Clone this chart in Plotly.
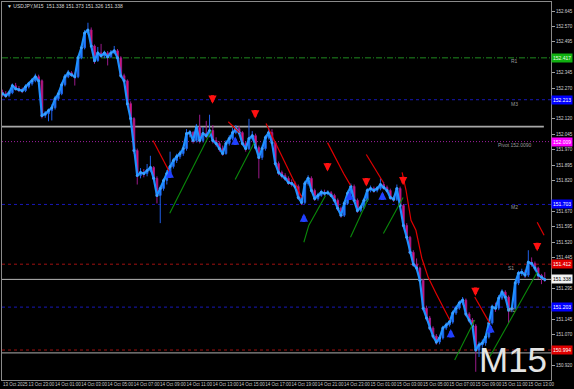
import numpy as np
import pandas as pd
import plotly.graph_objects as go

# ---------------- data ----------------
start_time = "2025-10-13 21:00"
bar_minutes = 15

opens = [
    152.250,152.242,152.233,152.247,152.281,152.267,152.262,152.257,152.276,152.291,
    152.305,152.325,152.305,152.136,152.145,152.160,152.174,152.218,152.242,152.286,
    152.325,152.344,152.335,152.325,152.417,152.466,152.538,152.553,152.475,152.403,
    152.441,152.427,152.441,152.422,152.441,152.451,152.417,152.330,152.305,152.194,
    152.121,151.966,151.844,151.859,151.854,151.868,151.883,151.830,151.747,151.781,
    151.820,151.854,151.888,151.917,151.936,151.951,151.975,152.048,152.053,152.014,
    152.080,152.014,152.048,152.038,152.063,152.014,152.000,151.975,151.951,152.000,
    152.024,152.053,152.072,152.053,152.000,151.975,152.024,152.038,151.980,151.932,
    151.975,152.029,152.053,152.004,151.902,151.859,151.844,151.830,151.810,151.805,
    151.791,151.737,151.713,151.805,151.830,151.771,151.732,151.747,151.762,151.757,
    151.760,151.747,151.723,151.684,151.650,151.708,151.757,151.791,151.723,151.674,
    151.689,151.723,151.771,151.781,151.771,151.781,151.800,151.786,151.771,151.737,
    151.728,151.781,151.698,151.601,151.543,151.470,151.412,151.393,151.334,151.198,
    151.150,151.101,151.062,151.033,151.053,151.101,151.116,151.130,151.174,151.198,
    151.223,151.237,151.169,151.140,151.111,150.994,151.019,151.028,151.058,151.126,
    151.203,151.198,151.247,151.276,151.252,151.189,151.198,151.320,151.368,151.373,
    151.359,151.422,151.415,151.393,151.359,151.338,
]
highs = [
    152.262,152.255,152.258,152.292,152.295,152.280,152.272,152.288,152.300,152.318,
    152.340,152.335,152.312,152.158,152.170,152.190,152.232,152.258,152.298,152.338,
    152.358,152.352,152.345,152.428,152.480,152.552,152.588,152.565,152.482,152.470,
    152.485,152.452,152.450,152.455,152.475,152.460,152.425,152.340,152.312,152.205,
    152.128,151.975,151.880,151.875,151.900,151.940,151.890,151.840,151.795,151.830,
    151.870,151.960,151.930,151.950,151.965,151.990,152.070,152.065,152.060,152.095,
    152.140,152.080,152.110,152.140,152.090,152.030,152.010,151.990,152.015,152.040,
    152.075,152.090,152.085,152.060,152.010,152.120,152.060,152.048,151.990,151.990,
    152.040,152.080,152.070,152.010,151.912,151.868,151.855,151.840,151.825,151.815,
    151.800,151.748,151.818,151.845,151.840,151.780,151.760,151.775,151.775,151.772,
    151.768,151.755,151.732,151.692,151.720,151.770,151.805,151.800,151.732,151.700,
    151.735,151.782,151.795,151.790,151.792,151.830,151.812,151.795,151.780,151.745,
    151.800,151.790,151.705,151.612,151.550,151.480,151.440,151.400,151.340,151.210,
    151.160,151.110,151.072,151.065,151.112,151.128,151.142,151.186,151.210,151.235,
    151.252,151.245,151.178,151.150,151.120,151.035,151.045,151.070,151.140,151.215,
    151.225,151.262,151.290,151.285,151.260,151.210,151.330,151.380,151.390,151.385,
    151.480,151.445,151.425,151.400,151.365,151.373,
]
lows = [
    152.228,152.222,152.225,152.240,152.258,152.250,152.245,152.250,152.268,152.282,
    152.298,152.290,152.122,152.125,152.108,152.112,152.165,152.208,152.235,152.278,
    152.318,152.325,152.282,152.318,152.410,152.458,152.530,152.465,152.388,152.398,
    152.418,152.415,152.380,152.415,152.435,152.408,152.320,152.295,152.180,152.110,
    151.950,151.800,151.830,151.835,151.840,151.860,151.820,151.708,151.612,151.770,
    151.800,151.845,151.878,151.905,151.925,151.940,151.965,152.030,152.000,152.005,
    152.000,152.005,152.025,152.030,152.000,151.985,151.960,151.940,151.945,151.990,
    152.015,152.045,152.040,151.990,151.960,151.968,152.015,151.970,151.830,151.920,
    151.965,152.020,151.990,151.890,151.845,151.830,151.818,151.798,151.790,151.778,
    151.725,151.700,151.705,151.795,151.760,151.720,151.722,151.740,151.745,151.748,
    151.738,151.712,151.672,151.638,151.642,151.700,151.748,151.712,151.662,151.665,
    151.680,151.715,151.762,151.760,151.762,151.772,151.775,151.760,151.725,151.715,
    151.720,151.690,151.590,151.530,151.460,151.400,151.380,151.320,151.185,151.138,
    151.090,151.050,151.020,151.022,151.045,151.092,151.108,151.122,151.165,151.190,
    151.215,151.158,151.128,151.098,150.888,150.960,151.005,151.015,151.050,151.118,
    151.180,151.188,151.238,151.240,151.125,151.178,151.190,151.310,151.355,151.345,
    151.350,151.400,151.380,151.340,151.315,151.326,
]
closes = [
    152.242,152.233,152.247,152.281,152.267,152.262,152.257,152.276,152.291,152.305,
    152.325,152.305,152.136,152.145,152.160,152.174,152.218,152.242,152.286,152.325,
    152.344,152.335,152.325,152.417,152.466,152.538,152.553,152.475,152.403,152.441,
    152.427,152.441,152.422,152.441,152.451,152.417,152.330,152.305,152.194,152.121,
    151.966,151.844,151.859,151.854,151.868,151.883,151.830,151.747,151.781,151.820,
    151.854,151.888,151.917,151.936,151.951,151.975,152.048,152.053,152.014,152.080,
    152.014,152.048,152.038,152.063,152.014,152.000,151.975,151.951,152.000,152.024,
    152.053,152.072,152.053,152.000,151.975,152.024,152.038,151.980,151.932,151.975,
    152.029,152.053,152.004,151.902,151.859,151.844,151.830,151.810,151.805,151.791,
    151.737,151.713,151.805,151.830,151.771,151.732,151.747,151.762,151.757,151.760,
    151.747,151.723,151.684,151.650,151.708,151.757,151.791,151.723,151.674,151.689,
    151.723,151.771,151.781,151.771,151.781,151.800,151.786,151.771,151.737,151.728,
    151.781,151.698,151.601,151.543,151.470,151.412,151.393,151.334,151.198,151.150,
    151.101,151.062,151.033,151.053,151.101,151.116,151.130,151.174,151.198,151.223,
    151.237,151.169,151.140,151.111,150.994,151.019,151.028,151.058,151.126,151.203,
    151.198,151.247,151.276,151.252,151.189,151.198,151.320,151.368,151.373,151.359,
    151.422,151.415,151.393,151.359,151.349,151.338,
]

# pivot levels
level_names = ["R1", "M3", "Pivot 152.0090", "M2", "S1", "M1", "S2"]
level_values = [152.417, 152.213, 152.009, 151.703, 151.412, 151.203, 150.994]
level_box_text = ["152.417", "152.213", "152.009", "151.703", "151.412", "151.203", "150.994"]
grey_levels = [152.082, 150.980]
current_price = 151.338

# indicator trend lines (bar index, price)
red_lines_bars = [[45.8, 50.9], [68.7, 72.1], [80.2, 84.1, 91.1], [98.9, 101.7, 103.8, 105.9],
                  [110.7, 115.9], [121.6, 122.8, 124.3, 125.8, 127.6, 129.5, 131.9, 136.1],
                  [143.7, 148.2], [162.7, 164.8]]
red_lines_prices = [[152.014, 151.859], [152.106, 152.053], [152.097, 151.966, 151.737],
                    [152.004, 151.917, 151.854, 151.796], [151.946, 151.810],
                    [151.859, 151.771, 151.626, 151.577, 151.441, 151.349, 151.271, 151.140],
                    [151.252, 151.126], [151.616, 151.553]]
green_lines_bars = [[50.9, 63.6], [70.8, 76.6], [91.7, 93.2, 98.3], [105.9, 111.3],
                    [115.9, 121.9], [137.6, 143.7], [148.2, 162.7]]
green_lines_prices = [[151.660, 152.063], [151.825, 152.004], [151.519, 151.601, 151.747],
                      [151.543, 151.732], [151.562, 151.737], [150.946, 151.140],
                      [150.960, 151.373]]

sell_bars = [63.9, 76.9, 98.9, 110.7, 121.9, 143.9, 162.7]
sell_prices = [152.194, 152.121, 151.864, 151.791, 151.796, 151.257, 151.475]
buy_bars = [50.9, 70.8, 91.7, 105.6, 115.6, 136.4, 148.5]
buy_prices = [151.873, 152.034, 151.659, 151.766, 151.766, 151.096, 151.120]

x_tick_bars = list(range(0, 161, 8))
x_tick_text = ["13 Oct 2025", "13 Oct 23:00", "14 Oct 01:00", "14 Oct 03:00", "14 Oct 05:00",
               "14 Oct 07:00", "14 Oct 09:00", "14 Oct 11:00", "14 Oct 13:00", "14 Oct 15:00",
               "14 Oct 17:00", "14 Oct 19:00", "14 Oct 21:00", "14 Oct 23:00", "15 Oct 01:00",
               "15 Oct 03:00", "15 Oct 05:00", "15 Oct 07:00", "15 Oct 09:00", "15 Oct 11:00",
               "15 Oct 13:00"]
# axis price labels (those hidden under the level boxes in the reference are left out)
y_tick_values = [152.645, 152.570, 152.495, 152.345, 152.270, 152.120,
                 152.045, 151.970, 151.895, 151.820, 151.670, 151.595, 151.520,
                 151.445, 151.295, 151.145, 151.070, 150.920, 150.845]

title_text = "▼ USDJPY,M15  151.338 151.373 151.326 151.338"
tf_label = "M15"

# ---------------- helpers ----------------
base = pd.Timestamp(start_time)


def bar_time(i):
    return base + pd.Timedelta(minutes=bar_minutes * i)


times = [bar_time(i) for i in range(len(closes))]

# ---------------- figure ----------------
fig = go.Figure()

fig.add_trace(go.Candlestick(
    x=times, open=opens, high=highs, low=lows, close=closes,
    increasing=dict(line=dict(color="#2060E8", width=1), fillcolor="#1E90FF"),
    decreasing=dict(line=dict(color="#9A1A8A", width=1), fillcolor="#FF1464"),
    whiskerwidth=0, showlegend=False, hoverinfo="skip",
))

fig.add_trace(go.Scatter(
    x=times, y=closes, mode="lines+markers",
    line=dict(color="#1E90FF", width=2.2),
    marker=dict(color="#3AA0FF", size=3),
    showlegend=False, hoverinfo="skip",
))

for bars, prices in zip(red_lines_bars, red_lines_prices):
    fig.add_trace(go.Scatter(x=[bar_time(b) for b in bars], y=prices, mode="lines",
                             line=dict(color="#E00000", width=1.2),
                             showlegend=False, hoverinfo="skip"))
for bars, prices in zip(green_lines_bars, green_lines_prices):
    fig.add_trace(go.Scatter(x=[bar_time(b) for b in bars], y=prices, mode="lines",
                             line=dict(color="#0A8A0A", width=1.1),
                             showlegend=False, hoverinfo="skip"))

# level lines
level_styles = [
    ("#1F8A1F", "6px,2px,1px,2px", "#10B010", "#E8FFE8"),
    ("#1818B8", "3px,3px", "#0000FF", "#FFFFFF"),
    ("#A020A0", "1px,2px", "#FF00FF", "#FFFFFF"),
    ("#1818B8", "3px,3px", "#0000FF", "#FFFFFF"),
    ("#A01010", "3px,3px", "#E00000", "#FFFFFF"),
    ("#1818B8", "3px,3px", "#0000FF", "#FFFFFF"),
    ("#A01010", "3px,3px", "#E00000", "#FFFFFF"),
]
label_offsets_px = [3, 4, 3, 3, 4, 3, 4]
label_x = [0.933, 0.933, 0.935, 0.933, 0.928, 0.928, 0.928]
px_per_price = 379 / (152.689 - 150.848)

for name, val, txt, sty, off, lx in zip(level_names, level_values, level_box_text,
                                        level_styles, label_offsets_px, label_x):
    lc, dash, bg, fc = sty
    fig.add_shape(type="line", xref="paper", yref="y", x0=0, x1=1, y0=val, y1=val,
                  line=dict(color=lc, width=1, dash=dash), layer="below")
    fig.add_annotation(xref="paper", yref="y", x=1, y=val, xanchor="left", yanchor="middle",
                       text=txt, showarrow=False, bgcolor=bg, borderpad=1,
                       font=dict(size=5, color=fc, family="Liberation Sans"))
    if name != "S2":
        fig.add_annotation(xref="paper", yref="y", x=lx, y=val - off / px_per_price,
                           xanchor="center", yanchor="middle", text=name, showarrow=False,
                           font=dict(size=5, color="#9A9A9A", family="Liberation Sans"))

fig.add_shape(type="line", xref="paper", yref="y", x0=0, x1=0.987,
              y0=grey_levels[0], y1=grey_levels[0],
              line=dict(color="#A8A8A8", width=1.6), layer="below")
fig.add_shape(type="line", xref="paper", yref="y", x0=0, x1=1,
              y0=grey_levels[1], y1=grey_levels[1],
              line=dict(color="#8C8C8C", width=1.2), layer="below")
fig.add_shape(type="line", xref="paper", yref="y", x0=0, x1=1,
              y0=current_price, y1=current_price,
              line=dict(color="#B8B8B8", width=1), layer="below")
fig.add_annotation(xref="paper", yref="y", x=1, y=current_price, xanchor="left",
                   yanchor="middle", text=f"{current_price:.3f}", showarrow=False,
                   bgcolor="#F2F2F2", borderpad=1,
                   font=dict(size=5, color="#000000", family="Liberation Sans"))

# signal arrows
for b, p in zip(sell_bars, sell_prices):
    fig.add_annotation(x=bar_time(b), y=p, xref="x", yref="y", text="", showarrow=True,
                       ax=0, ay=-10, arrowhead=2, arrowsize=0.55, arrowwidth=3,
                       arrowcolor="#FF1010")
for b, p in zip(buy_bars, buy_prices):
    fig.add_annotation(x=bar_time(b), y=p, xref="x", yref="y", text="", showarrow=True,
                       ax=0, ay=10, arrowhead=2, arrowsize=0.55, arrowwidth=3,
                       arrowcolor="#2040FF")

# title and timeframe label
fig.add_annotation(xref="paper", yref="paper", x=0.006, y=0.99, xanchor="left",
                   yanchor="middle", text=title_text, showarrow=False,
                   font=dict(size=5, color="#D8D8D8", family="Liberation Sans"))
fig.add_annotation(xref="paper", yref="paper", x=0.931, y=0.055, xanchor="center",
                   yanchor="middle", text=tf_label, showarrow=False,
                   font=dict(size=35, color="#E4E4E4", family="Liberation Sans"))

tick_shift_min = 58
fig.update_layout(
    width=574, height=389,
    margin=dict(l=1, r=20, t=1, b=9),
    paper_bgcolor="#000000", plot_bgcolor="#000000",
    showlegend=False,
    font=dict(family="Liberation Sans", size=5, color="#D0D0D0"),
    xaxis=dict(
        type="date",
        range=[bar_time(-0.15), bar_time(166.9)],
        rangeslider=dict(visible=False),
        showgrid=False, zeroline=False,
        tickvals=[bar_time(b) + pd.Timedelta(minutes=tick_shift_min) for b in x_tick_bars],
        ticktext=x_tick_text, ticks="", tickangle=0,
        tickfont=dict(size=4.5, color="#C8C8C8"),
        showline=True, linecolor="#8A8A8A", linewidth=1, mirror=True,
    ),
    yaxis=dict(
        side="right", range=[150.848, 152.689],
        showgrid=False, zeroline=False,
        tickvals=y_tick_values, ticktext=[f"{v:.3f}" for v in y_tick_values],
        ticks="outside", ticklen=3, tickcolor="#A0A0A0",
        tickfont=dict(size=4.5, color="#D0D0D0"),
        showline=True, linecolor="#8A8A8A", linewidth=1, mirror=True,
    ),
)

fig.write_html("out.html")
